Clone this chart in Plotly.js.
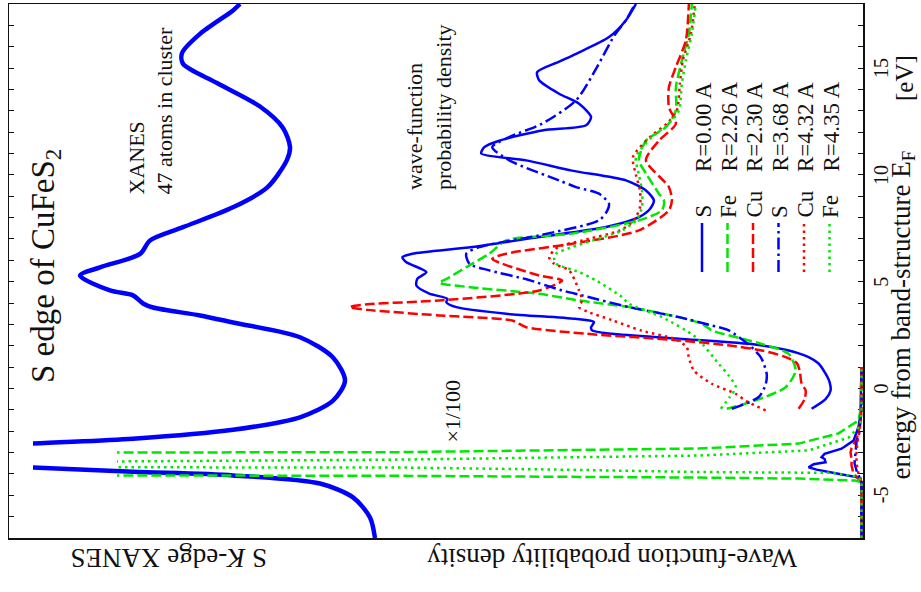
<!DOCTYPE html>
<html><head><meta charset="utf-8">
<script src="https://cdn.plot.ly/plotly-3.0.1.min.js"></script>
<style>html,body{margin:0;padding:0;background:#fff}#plot{width:921px;height:592px}</style>
</head><body><div id="plot"></div>
<script>
// ---------------- DATA ----------------
// energy axis ticks
const tickVals = [-5, 0, 5, 10, 15];
const tickText = ['-5', '0', '5', '10', '15'];

// S K-edge XANES (arbitrary units)
const xanesE = [-7.0, -6.04, -5.1, -4.45, -4.07, -3.9, -3.7, -3.15, -2.58, -2.35, -1.93, -1.35, -0.57, 0.37, 1.45, 2.4, 3.09, 3.42, 3.79, 3.98, 4.36, 4.59, 5.29, 5.67, 6.3, 6.93, 7.55, 8.48, 9.4, 10.7, 11.3, 12.2, 13.2, 14.3, 15.2, 15.7, 16.6, 17.7, 18.0];
const xanesI = [4.88, 4.93, 5.10, 5.43, 6.30, 7.30, 8.30, 10.5, 8.30, 7.30, 6.30, 5.63, 5.30, 5.18, 5.30, 5.63, 6.30, 6.63, 7.10, 7.20, 7.30, 7.53, 7.83, 7.63, 7.23, 7.13, 6.80, 6.30, 5.96, 5.76, 5.73, 5.80, 6.03, 6.46, 6.80, 6.81, 6.63, 6.30, 6.23];

// wave-function densities, low-energy part (x1/100)
const s000LowE = [-7, -4.45, -4.3, -4.15, -4.0, -3.8, -3.69, -3.55, -3.45, -3.3, -3.22, -3.06, -2.82, -2.44, -1.8, -1.2, 1.0];
const s000LowD = [0, 0, 0.01, 0.05, 0.22, 0.45, 0.53, 0.48, 0.36, 0.37, 0.40, 0.37, 0.20, 0.08, 0.03, 0.01, 0];
const fe226LowE = [-7, -4.45, -4.4, -4.31, -4.22, -4.17, -4.09, -4.07, -3.5, -3.0, -2.98, -2.81, -2.58, -2.1, -1.5, -1.0, 1.0];
const fe226LowD = [0, 0, 0.0, 0.06, 0.63, 1.63, 4.63, 7.6, 30, 7.6, 4.63, 1.63, 0.63, 0.23, 0.03, 0.01, 0];
const cu230LowE = [-7, -4.45, -4.35, -4.2, -4.0, -3.6, -3.3, -3.0, -2.8, -2.4, -1.8, -1.0, 1.0];
const cu230LowD = [0, 0, 0, 0.03, 0.08, 0.10, 0.10, 0.11, 0.10, 0.05, 0.02, 0, 0];
const s368LowE = [-7, -4.45, -4.3, -4.0, -3.5, -3.0, -2.5, -2.0, -1.0, 1.0];
const s368LowD = [0, 0, 0, 0.04, 0.07, 0.06, 0.05, 0.02, 0, 0];
const cu432LowE = [-7, -4.45, -4.3, -4.0, -3.5, -3.0, -2.5, -2.0, -1.0, 1.0];
const cu432LowD = [0, 0, 0, 0.03, 0.05, 0.05, 0.04, 0.02, 0, 0];
const fe435LowE = [-7, -4.45, -4.31, -4.12, -3.95, -3.93, -3.91, -3.8, -3.7, -3.69, -3.55, -3.42, -3.33, -3.14, -2.9, -2.3, -1.73, -1.0, 1.0];
const fe435LowD = [0, 0, 0, 0.06, 0.3, 1.0, 1.63, 3.0, 4.63, 7.6, 25, 7.6, 4.63, 1.63, 0.53, 0.13, 0.01, 0, 0];

// wave-function densities, main part
const s000E = [-0.95, -0.5, -0.09, 0.3, 0.69, 1.17, 1.47, 1.8, 2.05, 2.33, 2.56, 2.72, 2.87, 3.11, 3.26, 3.5, 3.81, 4.04, 4.2, 4.44, 4.82, 5.14, 5.45, 5.91, 6.15, 6.31, 6.62, 7.09, 7.56, 8.02, 8.4, 8.8, 9.27, 9.74, 10.2, 10.68, 11.0, 11.3, 11.6, 12.08, 12.32, 12.71, 13.33, 13.8, 14.43, 14.81, 15.3, 15.67, 16.45, 17.24, 18];
const s000D = [0.50, 0.36, 0.31, 0.32, 0.36, 0.43, 0.53, 0.75, 1.05, 1.83, 2.50, 2.70, 2.71, 2.68, 2.87, 3.56, 4.06, 4.16, 4.15, 4.33, 4.46, 4.45, 4.36, 4.56, 4.60, 4.50, 3.90, 3.23, 2.56, 2.23, 2.12, 2.08, 2.16, 2.36, 2.90, 3.36, 3.81, 3.78, 3.63, 3.20, 2.76, 2.71, 2.83, 3.03, 3.23, 3.25, 3.03, 2.86, 2.53, 2.36, 2.26];
const fe226E = [-0.95, -0.56, 0.06, 0.84, 1.62, 2.09, 2.72, 3.03, 3.34, 3.81, 4.12, 4.43, 4.73, 4.95, 5.15, 5.68, 6.31, 6.93, 7.25, 7.87, 8.34, 8.8, 9.12, 10.0, 10.68, 11.6, 12.24, 13.02, 14.1, 15.36, 16.6, 18];
const fe226D = [1.35, 1.06, 0.76, 0.66, 0.73, 1.0, 1.50, 1.60, 1.83, 2.33, 2.83, 3.23, 3.90, 4.23, 4.15, 3.96, 3.73, 3.56, 2.90, 2.23, 2.0, 1.98, 2.03, 2.15, 2.23, 2.16, 1.96, 1.86, 1.86, 1.80, 1.73, 1.70];
const cu230E = [-0.95, -0.5, -0.09, 0.23, 0.84, 1.2, 1.5, 1.78, 2.01, 2.25, 2.56, 2.87, 3.18, 3.42, 3.68, 3.81, 3.94, 4.12, 4.59, 5.06, 5.29, 6.07, 6.31, 6.78, 7.4, 8.34, 8.8, 9.43, 10.68, 11.6, 12.4, 13.18, 14.1, 15.05, 16.3, 18];
const cu230D = [0.63, 0.57, 0.56, 0.60, 0.62, 0.65, 0.78, 1.0, 1.32, 1.83, 2.75, 3.36, 3.50, 4.23, 4.95, 5.13, 4.95, 4.23, 3.23, 3.0, 3.23, 3.70, 3.56, 2.90, 2.23, 1.93, 1.90, 1.93, 2.16, 2.03, 1.86, 1.93, 1.93, 1.86, 1.76, 1.73];
const s368E = [-0.95, -0.4, 0.2, 0.69, 1.47, 2.09, 2.72, 2.95, 3.34, 3.81, 4.36, 4.59, 5.1, 5.53, 5.84, 6.31, 6.62, 7.17, 7.87, 8.3, 8.65, 9.12, 9.43, 9.74, 10.68, 11.3, 11.77, 12.4, 13.49, 15.05, 16.5, 17.24, 18];
const s368D = [1.30, 1.03, 0.96, 0.95, 1.01, 1.14, 1.33, 1.50, 1.83, 2.33, 2.80, 3.0, 3.35, 3.73, 3.93, 3.96, 3.83, 3.23, 2.63, 2.55, 2.53, 2.63, 2.86, 3.03, 3.53, 3.70, 3.53, 3.20, 2.86, 2.65, 2.48, 2.36, 2.27];
const cu432E = [-1.03, -0.6, -0.25, 0.22, 0.84, 1.45, 1.93, 2.3, 2.7, 3.2, 3.6, 3.81, 4.12, 4.59, 5.53, 5.84, 6.15, 6.62, 6.93, 7.4, 7.87, 8.49, 9.27, 10.0, 10.83, 11.77, 12.4, 13.02, 14.27, 15.36, 16.6, 18];
const cu432D = [0.96, 1.15, 1.26, 1.50, 1.68, 1.73, 1.75, 1.86, 2.2, 2.5, 2.75, 2.83, 2.80, 2.83, 2.93, 3.08, 3.13, 3.04, 2.80, 2.42, 2.28, 2.22, 2.22, 2.26, 2.29, 2.12, 1.95, 1.85, 1.82, 1.79, 1.71, 1.67];
const fe435E = [-0.95, -0.4, 0.06, 0.6, 1.15, 2.4, 3.34, 3.97, 4.28, 5.06, 5.45, 5.84, 6.1, 6.31, 6.62, 7.4, 7.87, 8.49, 9.27, 10.0, 10.83, 11.77, 12.4, 13.02, 14.27, 15.36, 16.6, 18];
const fe435D = [1.41, 1.32, 1.26, 1.33, 1.43, 1.66, 2.0, 2.33, 2.40, 2.66, 2.83, 3.06, 3.08, 3.06, 2.90, 2.40, 2.26, 2.20, 2.20, 2.23, 2.26, 2.10, 1.93, 1.83, 1.80, 1.76, 1.70, 1.66];

// legend labels
const legendElem = ['S', 'Fe', 'Cu', 'S', 'Cu', 'Fe'];
const legendR = ['R=0.00 A', 'R=2.26 A', 'R=2.30 A', 'R=3.68 A', 'R=4.32 A', 'R=4.35 A'];

// ---------------- STYLE / LAYOUT ----------------
const BLUE = '#0000ff', RED = '#ff0000', GREEN = '#00e800';
const series = [
  {lowE: s000LowE, lowD: s000LowD, E: s000E, D: s000D, color: BLUE, dash: 'solid'},
  {lowE: fe226LowE, lowD: fe226LowD, E: fe226E, D: fe226D, color: GREEN, dash: '10px,4px'},
  {lowE: cu230LowE, lowD: cu230LowD, E: cu230E, D: cu230D, color: RED, dash: '10px,4px'},
  {lowE: s368LowE, lowD: s368LowD, E: s368E, D: s368D, color: BLUE, dash: '12px,4px,2.5px,4px'},
  {lowE: cu432LowE, lowD: cu432LowD, E: cu432E, D: cu432D, color: RED, dash: '2.5px,4px'},
  {lowE: fe435LowE, lowD: fe435LowD, E: fe435E, D: fe435D, color: GREEN, dash: '2.5px,4px'}
];

const W = 921, H = 592, ML = 9, MR = 58, MT = 4, MB = 54;
const PW = W - ML - MR, PH = H - MT - MB;
const px2x = px => (px - ML) / PW;
const py2y = py => (H - MB - py) / PH;
const FONT = 'Liberation Serif, DejaVu Serif, serif';
const INK = '#111';
const ERANGE = [-7, 18];

const traces = [];
traces.push({x: [null], y: [null], xaxis: 'x', yaxis: 'y', mode: 'lines', hoverinfo: 'skip', showlegend: false});
traces.push({x: xanesI, y: xanesE, xaxis: 'x2', yaxis: 'y2', mode: 'lines',
  line: {color: BLUE, width: 4.5, shape: 'spline', smoothing: 0.8}, showlegend: false, hoverinfo: 'skip'});
series.forEach(s => {
  traces.push({x: s.lowD, y: s.lowE, xaxis: 'x3', yaxis: 'y3', mode: 'lines',
    line: {color: s.color, width: 2.5, dash: s.dash}, showlegend: false, hoverinfo: 'skip'});
  traces.push({x: s.D, y: s.E, xaxis: 'x3', yaxis: 'y3', mode: 'lines',
    line: {color: s.color, width: 2.5, dash: s.dash, shape: 'spline', smoothing: 0.7}, showlegend: false, hoverinfo: 'skip'});
});

const ann = [];
function addText(text, px, py, size, angle, xa, ya, extra) {
  ann.push(Object.assign({text: text, xref: 'paper', yref: 'paper', x: px2x(px), y: py2y(py),
    showarrow: false, textangle: angle, xanchor: xa, yanchor: ya,
    font: {family: FONT, size: size, color: INK}}, extra || {}));
}
addText('S edge of CuFeS<sub>2</sub>', 45, 385, 33, -90, 'center', 'bottom');
addText('XANES<br>47 atoms in cluster', 150, 197, 22, -90, 'center', 'bottom', {align: 'left'});
addText('wave-function<br>probability density', 429, 192, 22, -90, 'center', 'bottom', {align: 'left'});
addText('×1/100', 452, 445, 22, -90, 'center', 'bottom');
addText('S <i>K</i>-edge XANES', 169, 558, 27, 180, 'center', 'middle');
addText('Wave-function probability density', 612, 558, 27, 180, 'center', 'middle');
addText('energy from band-structure E<sub>F</sub>', 902, 482, 27, -90, 'center', 'bottom');
addText('[eV]', 904, 103, 25, -90, 'center', 'bottom');

// energy tick labels, placed on the energy scale (rotated like the axis)
tickVals.forEach((v, i) => {
  ann.push({text: tickText[i], xref: 'paper', yref: 'y', x: px2x(881), y: v, showarrow: false,
    textangle: -90, xanchor: 'center', yanchor: 'middle', font: {family: FONT, size: 20, color: INK}});
});

const legX = [702, 727.5, 753, 778.5, 804, 829.5];
const shapes = [];
series.forEach((s, i) => {
  shapes.push({type: 'line', xref: 'paper', yref: 'paper', x0: px2x(legX[i]), x1: px2x(legX[i]),
    y0: py2y(272), y1: py2y(223), line: {color: s.color, width: 2.5, dash: s.dash}});
  addText(legendElem[i], legX[i] + 1, 220, 23, -90, 'center', 'bottom');
  addText(legendR[i], legX[i] + 1, 174, 23, -90, 'center', 'bottom');
});

const hiddenY = (anchor) => ({domain: [0, 1], range: ERANGE, anchor: anchor, visible: false, fixedrange: true,
  showline: false, ticks: '', showticklabels: false, showgrid: false, zeroline: false});

const layout = {
  width: W, height: H,
  margin: {l: ML, r: MR, t: MT, b: MB, pad: 0},
  paper_bgcolor: '#ffffff', plot_bgcolor: 'rgba(0,0,0,0)',
  showlegend: false,
  xaxis: {domain: [0, 1], range: [0, 1], anchor: 'y', showline: true, mirror: true, linecolor: INK, linewidth: 1.5,
    ticks: '', showticklabels: false, showgrid: false, zeroline: false, fixedrange: true},
  xaxis2: {domain: [px2x(33), 1], range: [8.3, 0], anchor: 'y2', visible: false, fixedrange: true},
  xaxis3: {domain: [px2x(117), 1], range: [7.46, -0.015], anchor: 'y3', visible: false, fixedrange: true},
  yaxis: {anchor: 'x', side: 'right', range: ERANGE, tickmode: 'array', tickvals: tickVals, ticktext: tickText,
    ticks: 'inside', ticklen: 5, tickwidth: 1, tickcolor: INK, showticklabels: false,
    minor: {tickmode: 'linear', tick0: 0, dtick: 1, ticks: 'inside', ticklen: 5, tickwidth: 1, tickcolor: INK},
    mirror: 'allticks', showline: true, linecolor: INK, linewidth: 1.5,
    showgrid: false, zeroline: false, fixedrange: true},
  yaxis2: hiddenY('x2'),
  yaxis3: hiddenY('x3'),
  annotations: ann,
  shapes: shapes
};

Plotly.newPlot('plot', traces, layout, {displayModeBar: false, staticPlot: true});
</script>
</body></html>
